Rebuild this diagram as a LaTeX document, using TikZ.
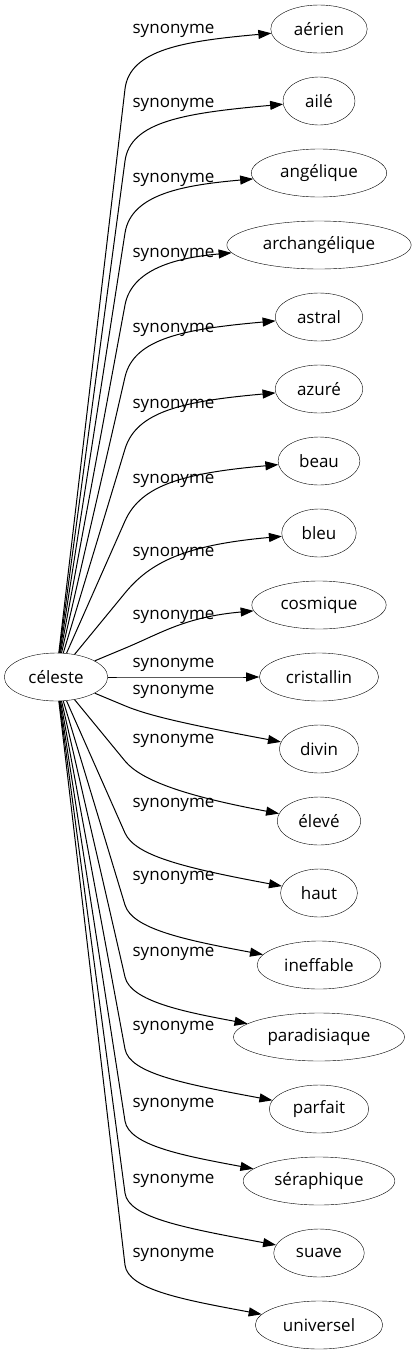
\documentclass[tikz,border=0pt]{standalone}
\usepackage{fontspec}
\setmainfont{Open Sans}
\usetikzlibrary{arrows.meta,shapes.geometric,calc}
\tikzstyle{word}=[draw,ellipse,minimum width=72pt,minimum height=48pt,inner xsep=9pt,font=\fontsize{17}{20}\selectfont]
\tikzstyle{syn}=[-{Triangle[length=13pt,width=9pt]},line width=1pt]
\tikzstyle{synlabel}=[font=\fontsize{17}{20}\selectfont,inner sep=0pt]

\begin{document}
\begin{tikzpicture}[x=1pt,y=-1pt]
\useasboundingbox (0,0) rectangle (412,1355);
\node [word] (celeste) at (56,677) {céleste};
\foreach \w [count=\i from 0] in {aérien,ailé,angélique,archangélique,astral,azuré,beau,bleu,cosmique,cristallin,divin,élevé,haut,ineffable,paradisiaque,parfait,séraphique,suave,universel}
  \node [word] (t\i) at (319,29+72*\i) {\w};

% edges bend near the label column, then run to the word
\foreach \i/\ly in {0/31,1/105,2/180,3/255,4/330,5/406,6/481,7/554,8/617,9/665,10/692,11/741,12/805,13/878,14/954,15/1028,16/1105,17/1181,18/1255}{
  \pgfmathsetmacro\yt{29+72*\i}
  \pgfmathsetmacro\dy{677-\yt}
  \pgfmathsetmacro\hh{sign(\dy)*min(60,0.6*abs(\dy))}
  \pgfmathsetmacro\kk{\dy>0 ? min(12,\dy/6) : -min(25,-\dy/2)}
  \pgfmathsetlengthmacro\cc{\dy>0 ? 40 : 25}
  \coordinate (b\i) at (125,\yt+\hh);
  \draw [syn] (celeste) -- (b\i) .. controls ($(b\i)!-\cc!(celeste)$) and (185,\yt+\kk) .. (t\i);
  \node [synlabel] (l\i) at (173.5,\ly) {synonyme};
}
\end{tikzpicture}
\end{document}
